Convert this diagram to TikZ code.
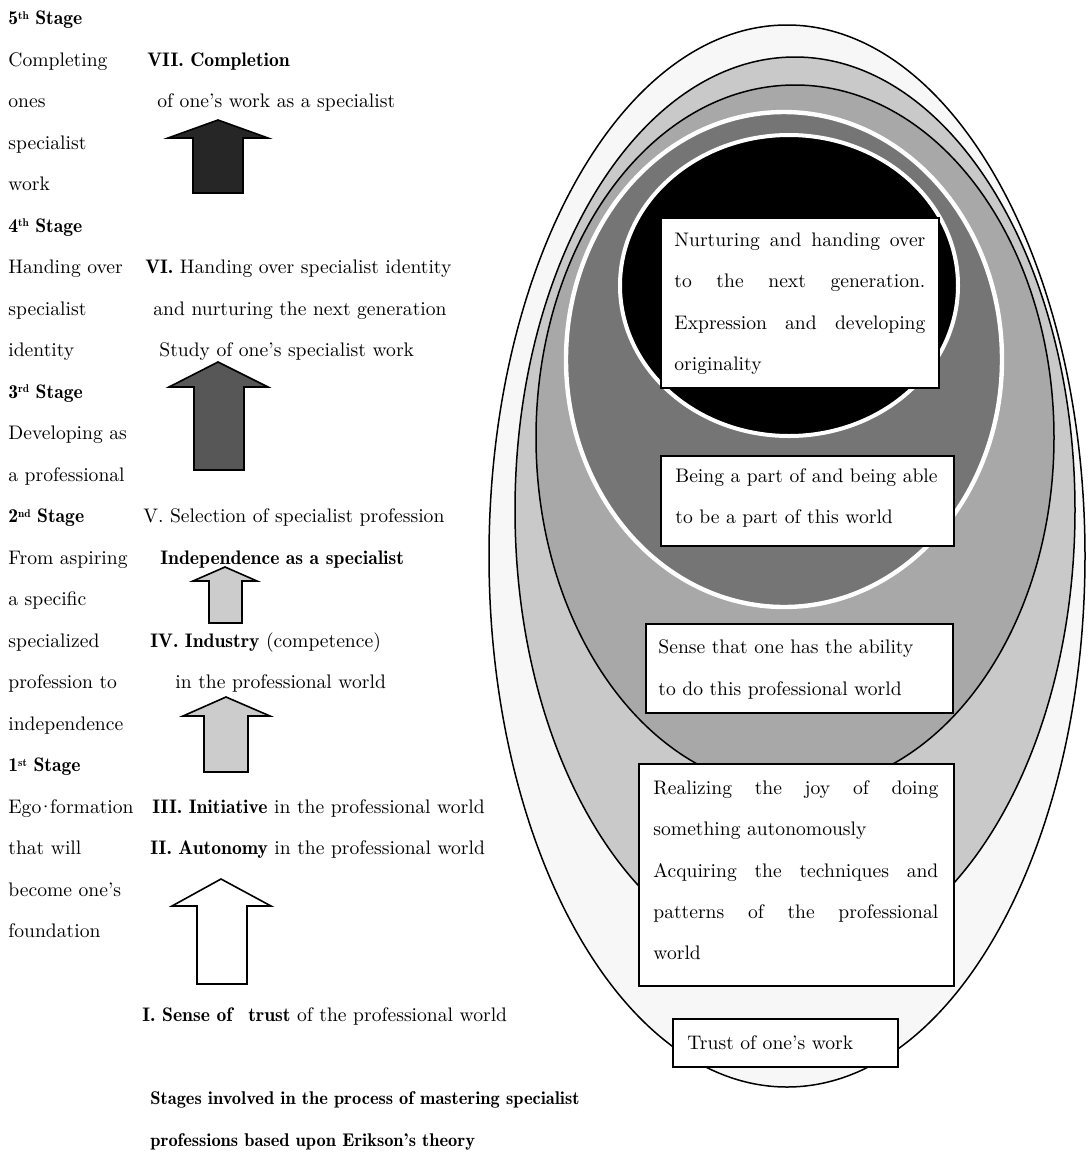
\documentclass[tikz,border=0pt]{standalone}
\usepackage{fontspec}
\newfontfamily\demifont{lmromandemi10-regular.otf}
\newcommand\bd[1]{{\demifont #1}}
\newcommand\supx[1]{\raisebox{0.62ex}{\fontsize{5.6}{6}\selectfont #1}}
\begin{document}
\begin{tikzpicture}[x=0.5pt,y=-0.5pt,
  lbl/.style={anchor=base west, inner sep=0pt, font=\fontsize{9.8}{12}\selectfont},
  captext/.style={anchor=base west, inner sep=0pt, font=\fontsize{9.2}{12}\selectfont},
  tbox/.style={draw, line width=1pt, fill=white, inner sep=0pt, anchor=north west},
  blockarrow/.style={draw, line width=0.8pt, line join=miter},
  ring/.style={draw, line width=0.75pt}]
\useasboundingbox[fill=white] (0,0) rectangle (1088,1152);

% ---------- nested ellipses ----------
\path[ring, fill=black!3]  (787,556)   ellipse [x radius=149pt,  y radius=265.5pt];
\path[ring, fill=black!21] (795,510)   ellipse [x radius=140pt,  y radius=226.5pt];
\path[ring, fill=black!34] (795,437.5) ellipse [x radius=129.5pt,y radius=176.25pt];
\path[draw=white, line width=2.2pt, fill=black!54] (784,359.5) ellipse [x radius=109pt, y radius=123.75pt];
\path[draw=white, line width=2pt, fill=black] (789,285.5) ellipse [x radius=84.5pt, y radius=75.25pt];

% ---------- boxes ----------
\node[tbox, minimum width=139pt,  minimum height=85pt]  (b1) at (660,217) {};
\node[tbox, minimum width=146.5pt,minimum height=45pt]  (b2) at (660,455) {};
\node[tbox, minimum width=153.5pt,minimum height=44.5pt](b3) at (645,623) {};
\node[tbox, minimum width=157.5pt,minimum height=111pt] (b4) at (638,763) {};
\node[tbox, minimum width=112.5pt,minimum height=24pt]  (b5) at (672,1018) {};

\node[lbl] (b1a) at (674,246)   {\makebox[125.5pt][s]{Nurturing and handing over}};
\node[lbl] (b1b) at (674,287.5) {\makebox[125.5pt][s]{to the next generation.}};
\node[lbl] (b1c) at (674,329)   {\makebox[125.5pt][s]{Expression and developing}};
\node[lbl] (b1d) at (674,370.5) {originality};

\node[lbl] (b2a) at (675,482)   {Being a part of and being able};
\node[lbl] (b2b) at (675,523)   {to be a part of this world};

\node[lbl] (b3a) at (658,653)   {Sense that one has the ability};
\node[lbl] (b3b) at (658,695)   {to do this professional world};

\node[lbl] (b4a) at (653,794)   {\makebox[142.5pt][s]{Realizing the joy of doing}};
\node[lbl] (b4b) at (653,835)   {something autonomously};
\node[lbl] (b4c) at (653,877)   {\makebox[142.5pt][s]{Acquiring the techniques and}};
\node[lbl] (b4d) at (653,918)   {\makebox[142.5pt][s]{patterns of the professional}};
\node[lbl] (b4e) at (653,959)   {world};

\node[lbl] (b5a) at (687,1049)  {Trust of one’s work};

% ---------- block arrows ----------
\path[blockarrow, fill=black!85] (218,120) -- (268,138) -- (243,138) -- (243,193) -- (193,193) -- (193,138) -- (168,138) -- cycle;
\path[blockarrow, fill=black!66] (218,362) -- (268,387) -- (244,387) -- (244,470) -- (194,470) -- (194,387) -- (169,387) -- cycle;
\path[blockarrow, fill=black!20] (225,567) -- (257,581) -- (242,581) -- (242,623) -- (209,623) -- (209,581) -- (193,581) -- cycle;
\path[blockarrow, fill=black!20] (226,697) -- (270,716) -- (248,716) -- (248,772) -- (204,772) -- (204,716) -- (183,716) -- cycle;
\path[blockarrow, fill=white]    (221,879) -- (271,906) -- (247,906) -- (247,984) -- (197,984) -- (197,906) -- (172,906) -- cycle;

% ---------- left column ----------
\node[lbl] (l1)  at (8,24.5)  {\bd{5\supx{th} Stage}};
\node[lbl] (l2)  at (8,66)    {Completing};
\node[lbl] (l3)  at (8,107.5) {ones};
\node[lbl] (l4)  at (8,149)   {specialist};
\node[lbl] (l5)  at (8,190.5) {work};
\node[lbl] (l6)  at (8,232)   {\bd{4\supx{th} Stage}};
\node[lbl] (l7)  at (8,273.5) {Handing over};
\node[lbl] (l8)  at (8,315)   {specialist};
\node[lbl] (l9)  at (8,356.5) {identity};
\node[lbl] (l10) at (8,398)   {\bd{3\supx{rd} Stage}};
\node[lbl] (l11) at (8,439.5) {Developing as};
\node[lbl] (l12) at (8,481)   {a professional};
\node[lbl] (l13) at (8,522.5) {\bd{2\supx{nd} Stage}};
\node[lbl] (l14) at (8,564)   {From aspiring};
\node[lbl] (l15) at (8,605.5) {a specific};
\node[lbl] (l16) at (8,647)   {specialized};
\node[lbl] (l17) at (8,688.5) {profession to};
\node[lbl] (l18) at (8,730)   {independence};
\node[lbl] (l19) at (8,771.5) {\bd{1\supx{st} Stage}};
\node[lbl] (l20) at (8,813)   {Ego\kern-1.6pt·\kern-1.6pt formation};
\node[lbl] (l21) at (8,854.5) {that will};
\node[lbl] (l22) at (8,896)   {become one’s};
\node[lbl] (l23) at (8,937.5) {foundation};

% ---------- middle column ----------
\node[lbl] (m1)  at (147,66)    {\bd{VII. Completion}};
\node[lbl] (m2)  at (157,107.5) {of one’s work as a specialist};
\node[lbl] (m3)  at (145,273.5) {\bd{VI.} Handing over specialist identity};
\node[lbl] (m4)  at (153,315)   {and nurturing the next generation};
\node[lbl] (m5)  at (159,356.5) {Study of one’s specialist work};
\node[lbl] (m6)  at (143,522.5) {V. Selection of specialist profession};
\node[lbl] (m7)  at (160,564)   {\bd{Independence as a specialist}};
\node[lbl] (m8)  at (150,647)   {\bd{IV. Industry} (competence)};
\node[lbl] (m9)  at (175,688.5) {in the professional world};
\node[lbl] (m10) at (152,813)   {\bd{III. Initiative} in the professional world};
\node[lbl] (m11) at (150,854.5) {\bd{II. Autonomy} in the professional world};
\node[lbl] (m12) at (142,1021)  {\bd{I. Sense of}\hspace{8pt}\bd{trust} of the professional world};

% ---------- caption ----------
\node[captext] (c1) at (150,1104) {\bd{Stages involved in the process of mastering specialist}};
\node[captext] (c2) at (150,1146) {\bd{professions based upon Erikson’s theory}};
\end{tikzpicture}
\end{document}
